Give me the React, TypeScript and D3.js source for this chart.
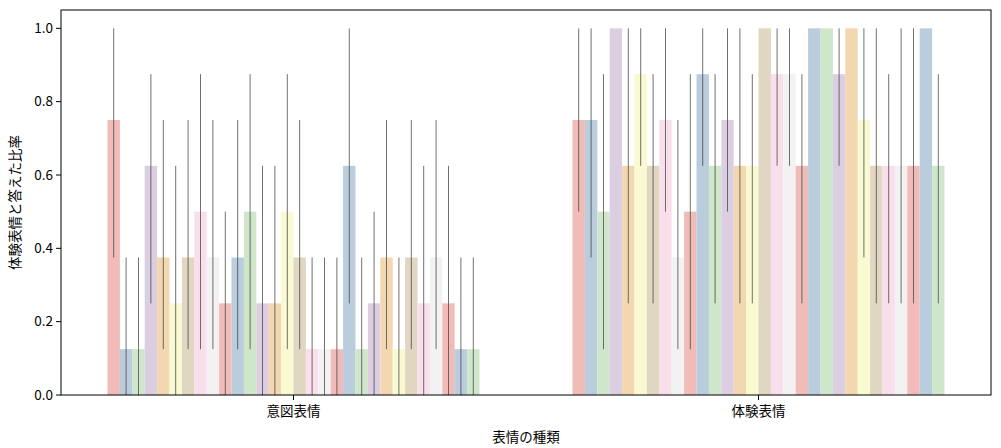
import React from 'react';
import * as d3 from 'd3';

// categories on the x axis
const categories = ['意図表情', '体験表情'];

// 30 hue levels (participants), no legend in the figure
const participants = d3.range(1, 31).map((i) => `P${i}`);

// mean ratio per participant, one array per category
const intendedMeans = [
  0.75, 0.125, 0.125, 0.625, 0.375, 0.25, 0.375, 0.5, 0.375, 0.25,
  0.375, 0.5, 0.25, 0.25, 0.5, 0.375, 0.125, 0.125, 0.125, 0.625,
  0.125, 0.25, 0.375, 0.125, 0.375, 0.25, 0.375, 0.25, 0.125, 0.125,
];
const intendedLow = [
  0.375, 0, 0, 0.25, 0.125, 0, 0.125, 0.125, 0.125, 0,
  0.125, 0.125, 0, 0, 0.125, 0.125, 0, 0, 0, 0.25,
  0, 0, 0.125, 0, 0.125, 0, 0.125, 0, 0, 0,
];
const intendedHigh = [
  1.0, 0.375, 0.375, 0.875, 0.75, 0.625, 0.75, 0.875, 0.75, 0.5,
  0.75, 0.875, 0.625, 0.625, 0.875, 0.75, 0.375, 0.375, 0.375, 1.0,
  0.375, 0.5, 0.75, 0.375, 0.75, 0.625, 0.75, 0.625, 0.375, 0.375,
];

const experiencedMeans = [
  0.75, 0.75, 0.5, 1.0, 0.625, 0.875, 0.625, 0.75, 0.375, 0.5,
  0.875, 0.625, 0.75, 0.625, 0.625, 1.0, 0.875, 0.875, 0.625, 1.0,
  1.0, 0.875, 1.0, 0.75, 0.625, 0.625, 0.625, 0.625, 1.0, 0.625,
];
const experiencedLow = [
  0.5, 0.375, 0.125, 1.0, 0.25, 0.625, 0.25, 0.5, 0.125, 0.125,
  0.625, 0.25, 0.5, 0.25, 0.25, 1.0, 0.625, 0.625, 0.25, 1.0,
  1.0, 0.625, 1.0, 0.375, 0.25, 0.25, 0.25, 0.25, 1.0, 0.25,
];
const experiencedHigh = [
  1.0, 1.0, 0.875, 1.0, 1.0, 1.0, 0.875, 1.0, 0.75, 0.875,
  1.0, 0.875, 1.0, 1.0, 0.875, 1.0, 1.0, 1.0, 0.875, 1.0,
  1.0, 1.0, 1.0, 1.0, 1.0, 0.875, 1.0, 1.0, 1.0, 0.875,
];

const yTicks = [0, 0.2, 0.4, 0.6, 0.8, 1.0];

const means = [intendedMeans, experiencedMeans];
const lows = [intendedLow, experiencedLow];
const highs = [intendedHigh, experiencedHigh];

const WIDTH = 1001;
const HEIGHT = 448;
const margin = { top: 10, right: 10, bottom: 53, left: 61 };
const FONT = '"Noto Sans CJK JP", "Noto Sans", sans-serif';

// seaborn-like desaturated Pastel1
const palette = d3.schemePastel1.map((c) => {
  const h = d3.hsl(c);
  h.s *= 0.75;
  return h.formatHex();
});

const App: React.FC = () => {
  const x = d3
    .scaleBand<string>()
    .domain(categories)
    .range([margin.left, WIDTH - margin.right])
    .paddingInner(0.2)
    .paddingOuter(0.1);

  const hue = d3
    .scaleBand<string>()
    .domain(participants)
    .range([0, x.bandwidth()])
    .padding(0);

  const y = d3
    .scaleLinear()
    .domain([0, 1.05])
    .range([HEIGHT - margin.bottom, margin.top]);

  const x0 = margin.left;
  const x1 = WIDTH - margin.right;
  const y0 = HEIGHT - margin.bottom;
  const y1 = margin.top;

  return (
    <div style={{ position: 'fixed', left: 0, top: 0 }}>
      <svg width={WIDTH} height={HEIGHT} style={{ display: 'block', background: '#fff' }}>
        {/* bars */}
        {categories.map((cat, ci) =>
          participants.map((p, pi) => (
            <rect
              key={`b-${cat}-${p}`}
              x={(x(cat) ?? 0) + (hue(p) ?? 0)}
              y={y(means[ci][pi])}
              width={hue.bandwidth()}
              height={y(0) - y(means[ci][pi])}
              fill={palette[pi % palette.length]}
            />
          ))
        )}

        {/* error lines */}
        {categories.map((cat, ci) =>
          participants.map((p, pi) => (
            <line
              key={`e-${cat}-${p}`}
              x1={(x(cat) ?? 0) + (hue(p) ?? 0) + hue.bandwidth() / 2}
              x2={(x(cat) ?? 0) + (hue(p) ?? 0) + hue.bandwidth() / 2}
              y1={y(lows[ci][pi])}
              y2={y(highs[ci][pi])}
              stroke="#424242"
              strokeWidth={0.75}
            />
          ))
        )}

        {/* frame */}
        <rect x={x0} y={y1} width={x1 - x0} height={y0 - y1} fill="none" stroke="#000" strokeWidth={1} />

        {/* y ticks */}
        {yTicks.map((t) => (
          <g key={`yt-${t}`} transform={`translate(${x0},${y(t)})`}>
            <line x1={-5} x2={0} stroke="#000" strokeWidth={1} />
            <text
              x={-8}
              dy="0.35em"
              textAnchor="end"
              fontFamily={FONT}
              fontSize={13.5}
              fill="#000"
            >
              {t.toFixed(1)}
            </text>
          </g>
        ))}

        {/* x ticks */}
        {categories.map((cat) => (
          <g key={`xt-${cat}`} transform={`translate(${(x(cat) ?? 0) + x.bandwidth() / 2},${y0})`}>
            <line y1={0} y2={5} stroke="#000" strokeWidth={1} />
            <text y={21} textAnchor="middle" fontFamily={FONT} fontSize={13.5} fill="#000">
              {cat}
            </text>
          </g>
        ))}

        {/* axis labels */}
        <text
          x={(x0 + x1) / 2}
          y={442}
          textAnchor="middle"
          fontFamily={FONT}
          fontSize={13.5}
          fill="#000"
        >
          表情の種類
        </text>
        <text
          transform={`translate(20,${(y0 + y1) / 2}) rotate(-90)`}
          textAnchor="middle"
          fontFamily={FONT}
          fontSize={13.5}
          fill="#000"
        >
          体験表情と答えた比率
        </text>
      </svg>
    </div>
  );
};

export default App;
